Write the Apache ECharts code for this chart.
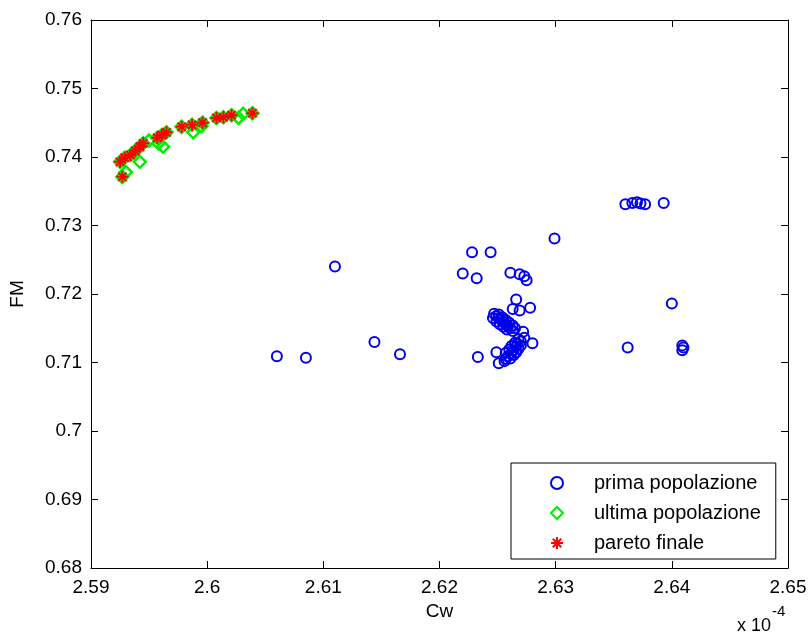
<!DOCTYPE html>
<html>
<head>
<meta charset="utf-8">
<script src="https://cdn.jsdelivr.net/npm/echarts@6/dist/echarts.min.js"></script>
<style>html,body{margin:0;padding:0;background:#fff;}#c{width:811px;height:637px;}</style>
</head>
<body>
<div id="c"></div>
<script>
// x values in units of 1e-4 (as shown on axis)
const primaX = [2.6060,2.6085,2.6110,2.6144,2.6166,2.6220,2.6228,2.6232,2.6233,2.6244,2.6249,2.6251,2.6261,2.6269,2.6273,2.6275,2.6266,2.6263,2.6269,2.6278,
  2.6247,2.6249,2.6251,2.6253,2.6255,2.6257,2.6259,2.6261,2.6263,
  2.6251,2.6254,2.6257,2.6260,2.6263,2.6265,2.6246,2.6249,2.6252,2.6255,2.6258,
  2.6273,2.6270,2.6267,2.6266,2.6263,2.6262,2.6259,2.6257,2.6256,2.6272,2.6280,
  2.6270,2.6268,2.6266,2.6264,2.6261,2.6268,2.6265,2.6262,2.6260,2.6257,
  2.6360,2.6366,2.6370,2.6373,2.6377,2.6393,2.6400,2.6362,2.6409,2.6409,2.6410,2.6299];
const primaY = [0.7109,0.7107,0.7240,0.7130,0.7112,0.7230,0.7261,0.7223,0.7108,0.7261,0.7115,0.7099,0.7231,0.7229,0.7226,0.7220,0.7192,0.7178,0.7176,0.7180,
  0.7171,0.7168,0.7165,0.7162,0.7159,0.7156,0.7153,0.7150,0.7146,
  0.7170,0.7166,0.7162,0.7158,0.7154,0.7150,0.7165,0.7160,0.7156,0.7152,0.7148,
  0.7136,0.7131,0.7127,0.7123,0.7118,0.7114,0.7109,0.7105,0.7102,0.7145,0.7128,
  0.7125,0.7120,0.7115,0.7111,0.7106,0.7134,0.7129,0.7124,0.7119,0.7114,
  0.7331,0.7333,0.7334,0.7332,0.7331,0.7333,0.7186,0.7122,0.7125,0.7118,0.7122,0.7281];
const ultimaX = [2.5927,2.5925,2.5929,2.5934,2.5938,2.5942,2.5945,2.5957,2.5961,2.5965,2.5978,2.5987,2.5996,2.6008,2.6014,2.6021,2.6039,
  2.5942,2.5962,2.5958,2.5988,2.6027,2.6031,2.5930,2.5950,2.5995];
const ultimaY = [0.7371,0.7393,0.7399,0.7403,0.7409,0.7415,0.7420,0.7428,0.7432,0.7436,0.7444,0.7447,0.7450,0.7457,0.7458,0.7461,0.7464,
  0.7393,0.7415,0.7420,0.7436,0.7457,0.7463,0.7378,0.7424,0.7445];
const paretoX = [2.5927,2.5925,2.5929,2.5934,2.5938,2.5942,2.5945,2.5957,2.5961,2.5965,2.5978,2.5987,2.5996,2.6008,2.6014,2.6021,2.6039];
const paretoY = [0.7371,0.7393,0.7399,0.7403,0.7409,0.7415,0.7420,0.7428,0.7432,0.7436,0.7444,0.7447,0.7450,0.7457,0.7458,0.7461,0.7464];
const seriesNames = ['prima popolazione','ultima popolazione','pareto finale'];
const xName = 'Cw', yName = 'FM';

const zip = (a,b) => a.map((v,i)=>[v,b[i]]);
const FONT = 'Liberation Sans';
const fmt = v => String(parseFloat(v.toFixed(2)));
const chart = echarts.init(document.getElementById('c'), null, {renderer:'canvas'});
const axLine = {show:true, onZero:false, lineStyle:{color:'#000', width:1}};
const axTick = {show:true, inside:true, length:7, lineStyle:{color:'#000', width:1}};
chart.setOption({
  animation:false,
  backgroundColor:'#fff',
  grid:{left:91, right:23, top:20, bottom:69, containLabel:false},
  xAxis:[
    {type:'value', min:2.59, max:2.65, interval:0.01, position:'bottom',
     name:xName, nameLocation:'middle', nameGap:22,
     nameTextStyle:{fontFamily:FONT, fontSize:19, color:'#000'},
     axisLine:axLine, axisTick:axTick, splitLine:{show:false},
     axisLabel:{formatter:fmt, fontFamily:FONT, fontSize:19, color:'#000', margin:10}},
    {type:'value', min:2.59, max:2.65, interval:0.01, position:'top',
     axisLine:axLine, axisTick:axTick, splitLine:{show:false}, axisLabel:{show:false}}
  ],
  yAxis:[
    {type:'value', min:0.68, max:0.76, interval:0.01, position:'left',
     name:yName, nameLocation:'middle', nameGap:64, nameRotate:90,
     nameTextStyle:{fontFamily:FONT, fontSize:19, color:'#000'},
     axisLine:axLine, axisTick:axTick, splitLine:{show:false},
     axisLabel:{formatter:fmt, fontFamily:FONT, fontSize:19, color:'#000', margin:9}},
    {type:'value', min:0.68, max:0.76, interval:0.01, position:'right',
     axisLine:axLine, axisTick:axTick, splitLine:{show:false}, axisLabel:{show:false}}
  ],
  legend:{
    left:511, top:463, orient:'vertical',
    padding:[10,15,6,39], itemGap:10, itemWidth:12, itemHeight:12,
    borderColor:'#000', borderWidth:1, backgroundColor:'#fff',
    textStyle:{fontFamily:FONT, fontSize:20, color:'#000', padding:[0,0,0,26]},
    data:seriesNames
  },
  series:[
    {name:seriesNames[0], type:'scatter', xAxisIndex:0, yAxisIndex:0,
     symbol:'circle', symbolSize:10, data:zip(primaX, primaY),
     itemStyle:{color:'rgba(0,0,0,0)', borderColor:'#0000ee', borderWidth:2, opacity:1}},
    {name:seriesNames[1], type:'scatter', xAxisIndex:0, yAxisIndex:0,
     symbol:'diamond', symbolSize:12, symbolKeepAspect:true, data:zip(ultimaX, ultimaY),
     itemStyle:{color:'rgba(0,0,0,0)', borderColor:'#00ee00', borderWidth:2.5, opacity:1}},
    {name:seriesNames[2], type:'scatter', xAxisIndex:0, yAxisIndex:0,
     symbol:'path://M5,0L5,10M0,5L10,5M1.5,1.5L8.5,8.5M1.5,8.5L8.5,1.5', symbolSize:12, symbolKeepAspect:true,
     data:zip(paretoX, paretoY),
     itemStyle:{color:'rgba(0,0,0,0)', borderColor:'#ff0000', borderWidth:2, opacity:1}}
  ],
  graphic:[
    {type:'text', left:737, top:617, style:{text:'x 10', fontFamily:FONT, fontSize:18, fill:'#000'}},
    {type:'text', left:772, top:604, style:{text:'-4', fontFamily:FONT, fontSize:15, fill:'#000'}}
  ]
});
</script>
</body>
</html>
